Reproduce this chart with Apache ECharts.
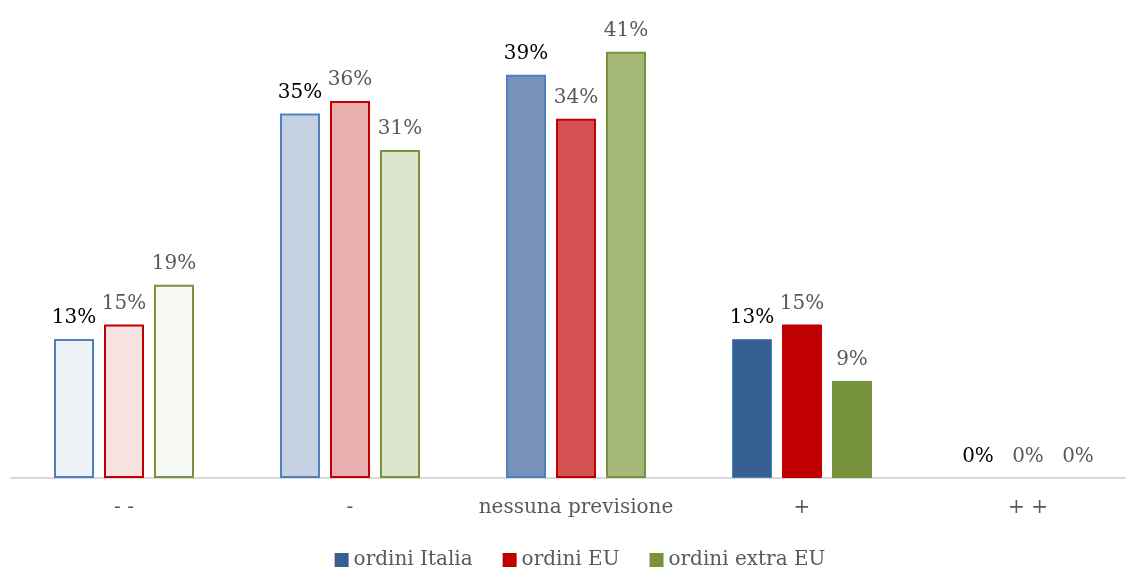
<!DOCTYPE html>
<html><head><meta charset="utf-8">
<script src="https://cdn.jsdelivr.net/npm/echarts@6/dist/echarts.min.js"></script>
<style>html,body{margin:0;padding:0;background:#fff;overflow:hidden}#c{width:1160px;height:569px}</style>
</head><body><div id="c"></div>
<script>
const categories = ['- -', '-', 'nessuna previsione', '+', '+ +'];
const seriesNames = ['ordini Italia', 'ordini EU', 'ordini extra EU'];
const italia = [13.3, 34.9, 38.6, 13.3, 0];
const eu = [14.7, 36.1, 34.4, 14.7, 0];
const extraEu = [18.5, 31.4, 40.8, 9.3, 0];

const seriesValues = [italia, eu, extraEu];
const baseColors = ['#376092', '#C00000', '#77933C'];
const borderColors = [
  ['#4F81BD', '#4F81BD', '#4F81BD', '#4F81BD', '#4F81BD'],
  ['#C00000', '#C00000', '#C00000', '#C00000', '#C00000'],
  ['#77933C', '#77933C', '#77933C', '#77933C', '#77933C']
];
const fillColors = [
  ['#EEF2F7', '#C5D0E2', '#7893B9', '#376092', '#376092'],
  ['#F8E3E3', '#EAAEAE', '#D45252', '#C00000', '#C00000'],
  ['#F6F8F3', '#DDE5CD', '#A5B87A', '#77933C', '#77933C']
];
const labelColors = ['#000000', '#595959', '#595959'];
const FONT = '"DejaVu Serif", serif';

const series = seriesValues.map((vals, si) => ({
  name: seriesNames[si],
  type: 'bar',
  barWidth: 40,
  barGap: '25%',
  itemStyle: { color: baseColors[si] },
  data: vals.map((v, ci) => ({
    value: v,
    itemStyle: v === 0 ? { color: 'rgba(0,0,0,0)', borderWidth: 0 } :
      { color: fillColors[si][ci], borderColor: borderColors[si][ci], borderWidth: ci === 3 ? 1 : 2 }
  })),
  label: {
    show: true, position: 'top', distance: 11,
    formatter: p => Math.round(p.value) + '%',
    color: labelColors[si], fontFamily: FONT, fontSize: 20
  }
}));

const chart = echarts.init(document.getElementById('c'));
chart.setOption({
  animation: false,
  grid: { left: 11, right: 19, top: 8, height: 470, containLabel: false },
  xAxis: {
    type: 'category', data: categories,
    axisLine: { lineStyle: { color: '#D9D9D9', width: 2 } },
    axisTick: { show: false },
    axisLabel: { interval: 0, color: '#595959', fontFamily: FONT, fontSize: 20, margin: 20 }
  },
  yAxis: { type: 'value', min: 0, max: 45, show: false, splitLine: { show: false } },
  legend: {
    top: 545, left: 'center', itemWidth: 14, itemHeight: 14, itemGap: 30,
    textStyle: { color: '#595959', fontFamily: FONT, fontSize: 20 },
    data: seriesNames.map((n, i) => ({ name: n, icon: 'rect', itemStyle: { color: baseColors[i], borderWidth: 0 } }))
  },
  series: series
});
</script></body></html>
